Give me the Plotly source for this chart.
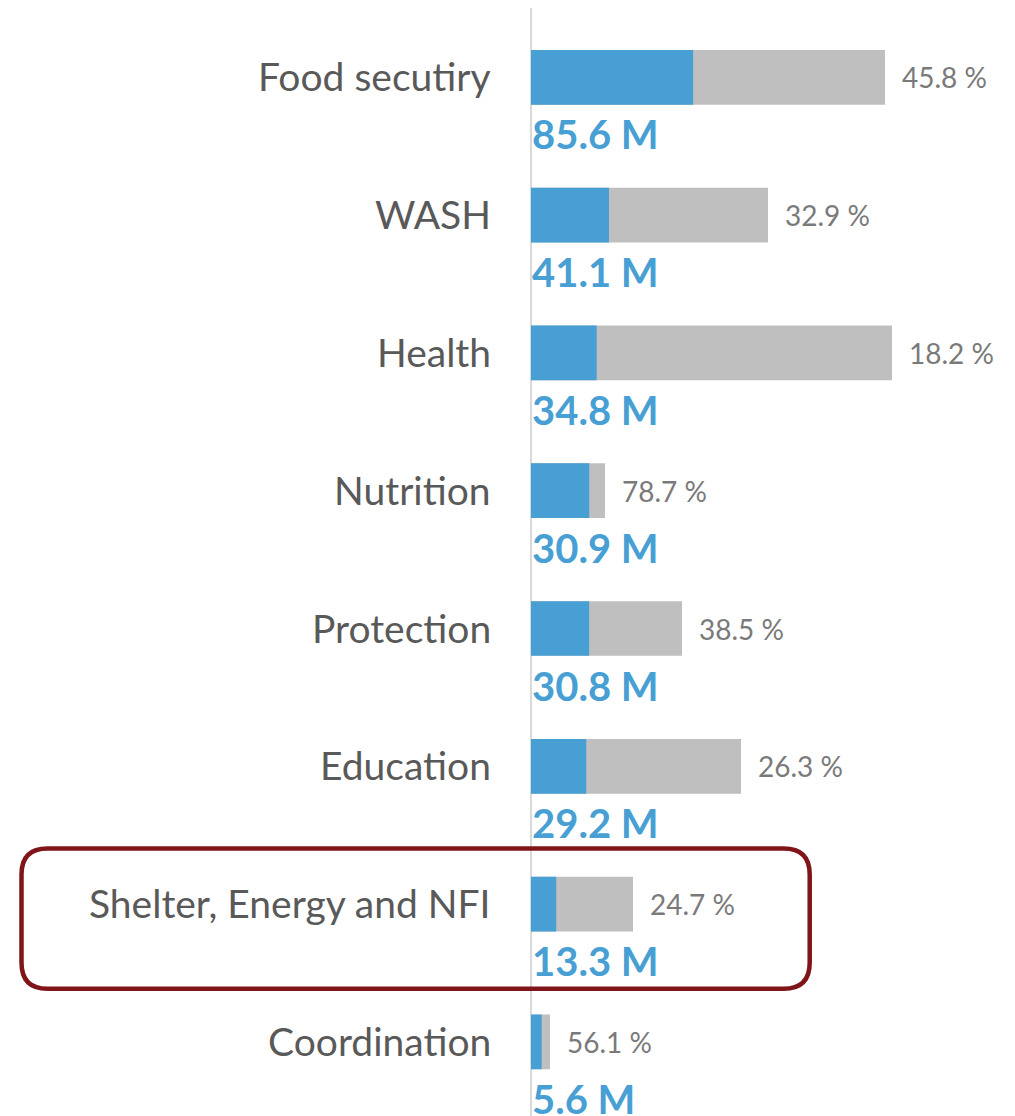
import plotly.graph_objects as go

# ---------------- data ----------------
categories = ["Food secutiry", "WASH", "Health", "Nutrition", "Protection",
              "Education", "Shelter, Energy and NFI", "Coordination"]
requirement = [3.54, 2.37, 3.61, 0.74, 1.51, 2.10, 1.02, 0.19]   # relative requirement (bar length)
funded_pct = [45.8, 32.9, 18.2, 78.7, 38.5, 26.3, 24.7, 56.1]     # % funded
people_m = [85.6, 41.1, 34.8, 30.9, 30.8, 29.2, 13.3, 5.6]        # people (millions)
highlight = "Shelter, Energy and NFI"

funded = [r * p / 100 for r, p in zip(requirement, funded_pct)]

# ---------------- layout constants ----------------
W, H = 1015, 1116
AXIS_PX = 531.0          # pixel of x = 0
PX_PER_UNIT = 100.0
TOP_PX = 77.3            # centre of first row
ROW_PX = 137.8           # row pitch

BLUE = "#479fd4"
GREY = "#bfbfbf"
FONT = "Lato"

x_range = [-AXIS_PX / PX_PER_UNIT, (W - AXIS_PX) / PX_PER_UNIT]
y_range = [(H - TOP_PX) / ROW_PX, -TOP_PX / ROW_PX]

fig = go.Figure()
fig.add_trace(go.Bar(
    y=categories, x=requirement, orientation="h",
    marker=dict(color=GREY, line=dict(width=0)), width=0.397,
    name="Requirement", hoverinfo="skip"))
fig.add_trace(go.Bar(
    y=categories, x=funded, orientation="h",
    marker=dict(color=BLUE, line=dict(width=0)), width=0.397,
    name="Funded", hoverinfo="skip"))

annotations = []
for cat, req, pct, ppl in zip(categories, requirement, funded_pct, people_m):
    annotations.append(dict(
        x=0, y=cat, xref="x", yref="y", text=cat, showarrow=False,
        xanchor="right", yanchor="middle", xshift=-38, yshift=1,
        font=dict(family=FONT, size=39, color="#595959")))
    annotations.append(dict(
        x=req, y=cat, xref="x", yref="y", text=f"{pct:.1f} %", showarrow=False,
        xanchor="left", yanchor="middle", xshift=15,
        font=dict(family=FONT, size=28, color="#7a7a7a")))
    annotations.append(dict(
        x=0, y=cat, xref="x", yref="y", text=f"<b>{ppl:.1f} M</b>", showarrow=False,
        xanchor="left", yanchor="middle", xshift=-1, yshift=-57,
        font=dict(family=FONT, size=40, color=BLUE)))


def P(px, py):
    return px / W, 1 - py / H


# highlight box around the chosen row
idx = categories.index(highlight)
cy = TOP_PX + idx * ROW_PX
x0, x1 = 21.5, 809.7
y0, y1 = cy - 55.7, cy + 84.7
r = 26
pts = [
    ("M", [(x0 + r, y0)]), ("L", [(x1 - r, y0)]), ("Q", [(x1, y0), (x1, y0 + r)]),
    ("L", [(x1, y1 - r)]), ("Q", [(x1, y1), (x1 - r, y1)]), ("L", [(x0 + r, y1)]),
    ("Q", [(x0, y1), (x0, y1 - r)]), ("L", [(x0, y0 + r)]), ("Q", [(x0, y0), (x0 + r, y0)]),
]
path = ""
for cmd, cs in pts:
    path += cmd + " " + " ".join(f"{P(a, b)[0]:.5f},{P(a, b)[1]:.5f}" for a, b in cs) + " "
path += "Z"

shapes = [
    dict(type="line", xref="x", yref="paper", x0=0, x1=0, y0=0, y1=1 - 8 / H,
         line=dict(color="#d9d9d9", width=2), layer="below"),
    dict(type="path", xref="paper", yref="paper", path=path,
         line=dict(color="#7f1519", width=4.5), fillcolor="rgba(0,0,0,0)", layer="above"),
]

fig.update_layout(
    width=W, height=H, barmode="overlay", showlegend=False,
    margin=dict(l=0, r=0, t=0, b=0, pad=0),
    paper_bgcolor="white", plot_bgcolor="white",
    xaxis=dict(range=x_range, visible=False, fixedrange=True),
    yaxis=dict(range=y_range, showticklabels=False, showgrid=False, zeroline=False,
               showline=False, ticks="", fixedrange=True,
               categoryorder="array", categoryarray=categories),
    annotations=annotations, shapes=shapes,
)

fig.write_html("out.html", config={"displayModeBar": False},
               post_script="document.body.style.margin='0';document.body.style.overflow='hidden';")
